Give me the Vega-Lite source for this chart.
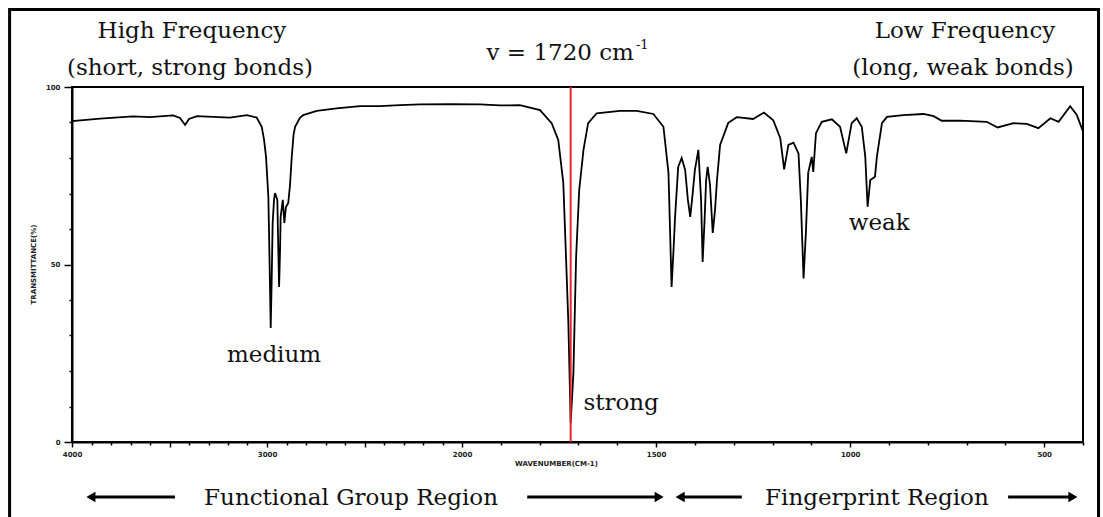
{
  "$schema": "https://vega.github.io/schema/vega-lite/v6.json",
  "width": 1011,
  "height": 355,
  "autosize": {"type": "none"},
  "padding": {"left": 72, "top": 87, "right": 20, "bottom": 75},
  "background": "white",
  "config": {
    "view": {"stroke": "black", "strokeWidth": 2},
    "axis": {"grid": false, "domainColor": "black", "domainWidth": 2, "tickColor": "black", "tickWidth": 1.5,
      "labelFont": "DejaVu Sans", "labelFontWeight": "bold", "labelFontSize": 7, "labelColor": "#222",
      "titleFont": "DejaVu Sans", "titleFontWeight": "bold", "titleFontSize": 7, "titleColor": "#222"}
  },
  "datasets": {
    "spectrum": [
      {"wn": 4000, "t": 90.4}, {"wn": 3856, "t": 91.1}, {"wn": 3687, "t": 91.7}, {"wn": 3600, "t": 91.5},
      {"wn": 3482, "t": 92.0}, {"wn": 3446, "t": 91.3}, {"wn": 3420, "t": 89.3}, {"wn": 3400, "t": 91.0},
      {"wn": 3359, "t": 91.8}, {"wn": 3277, "t": 91.6}, {"wn": 3190, "t": 91.4}, {"wn": 3103, "t": 92.1},
      {"wn": 3053, "t": 91.4}, {"wn": 3027, "t": 88.8}, {"wn": 3015, "t": 85.1}, {"wn": 3005, "t": 80.3},
      {"wn": 2993, "t": 69.0}, {"wn": 2987, "t": 51.3}, {"wn": 2981, "t": 32.1}, {"wn": 2976, "t": 45.6},
      {"wn": 2971, "t": 61.7}, {"wn": 2964, "t": 68.2}, {"wn": 2959, "t": 70.1}, {"wn": 2947, "t": 68.2},
      {"wn": 2942, "t": 54.1}, {"wn": 2938, "t": 43.7}, {"wn": 2933, "t": 54.1}, {"wn": 2930, "t": 63.4},
      {"wn": 2919, "t": 68.2}, {"wn": 2911, "t": 61.7}, {"wn": 2903, "t": 66.2}, {"wn": 2891, "t": 67.3},
      {"wn": 2882, "t": 72.4}, {"wn": 2873, "t": 80.3}, {"wn": 2864, "t": 86.5}, {"wn": 2856, "t": 88.8},
      {"wn": 2831, "t": 91.3}, {"wn": 2814, "t": 92.1}, {"wn": 2745, "t": 93.3}, {"wn": 2643, "t": 94.0},
      {"wn": 2523, "t": 94.6}, {"wn": 2421, "t": 94.6}, {"wn": 2318, "t": 94.9}, {"wn": 2215, "t": 95.1},
      {"wn": 2062, "t": 95.2}, {"wn": 1954, "t": 95.1}, {"wn": 1902, "t": 94.8}, {"wn": 1851, "t": 94.9},
      {"wn": 1799, "t": 93.5}, {"wn": 1769, "t": 89.8}, {"wn": 1752, "t": 85.1}, {"wn": 1739, "t": 73.0},
      {"wn": 1732, "t": 52.1}, {"wn": 1726, "t": 33.5}, {"wn": 1720, "t": 5.4}, {"wn": 1713, "t": 19.4},
      {"wn": 1706, "t": 52.1}, {"wn": 1698, "t": 71.0}, {"wn": 1687, "t": 82.3}, {"wn": 1675, "t": 89.8},
      {"wn": 1653, "t": 92.6}, {"wn": 1593, "t": 93.3}, {"wn": 1550, "t": 93.3}, {"wn": 1507, "t": 92.4},
      {"wn": 1481, "t": 88.8}, {"wn": 1468, "t": 75.8}, {"wn": 1464, "t": 59.7}, {"wn": 1460, "t": 43.7},
      {"wn": 1455, "t": 54.1}, {"wn": 1451, "t": 63.4}, {"wn": 1443, "t": 77.5}, {"wn": 1434, "t": 80.0},
      {"wn": 1425, "t": 76.6}, {"wn": 1418, "t": 68.2}, {"wn": 1412, "t": 63.4}, {"wn": 1406, "t": 69.6},
      {"wn": 1400, "t": 76.6}, {"wn": 1391, "t": 82.3}, {"wn": 1384, "t": 68.2}, {"wn": 1380, "t": 50.7},
      {"wn": 1375, "t": 62.5}, {"wn": 1371, "t": 73.8}, {"wn": 1367, "t": 77.5}, {"wn": 1361, "t": 72.4},
      {"wn": 1354, "t": 58.9}, {"wn": 1348, "t": 65.4}, {"wn": 1343, "t": 73.8}, {"wn": 1335, "t": 83.7},
      {"wn": 1314, "t": 89.9}, {"wn": 1292, "t": 91.5}, {"wn": 1250, "t": 91.0}, {"wn": 1222, "t": 92.8},
      {"wn": 1198, "t": 90.6}, {"wn": 1180, "t": 85.6}, {"wn": 1170, "t": 76.8}, {"wn": 1159, "t": 83.7},
      {"wn": 1146, "t": 84.3}, {"wn": 1133, "t": 81.3}, {"wn": 1127, "t": 68.2}, {"wn": 1120, "t": 46.1},
      {"wn": 1114, "t": 58.9}, {"wn": 1108, "t": 75.8}, {"wn": 1099, "t": 80.3}, {"wn": 1095, "t": 76.1},
      {"wn": 1088, "t": 87.0}, {"wn": 1073, "t": 90.2}, {"wn": 1047, "t": 90.9}, {"wn": 1026, "t": 88.8},
      {"wn": 1010, "t": 81.3}, {"wn": 996, "t": 89.8}, {"wn": 983, "t": 91.2}, {"wn": 970, "t": 88.8},
      {"wn": 961, "t": 80.4}, {"wn": 955, "t": 66.3}, {"wn": 948, "t": 73.8}, {"wn": 936, "t": 74.7},
      {"wn": 931, "t": 80.4}, {"wn": 918, "t": 89.8}, {"wn": 905, "t": 91.6}, {"wn": 863, "t": 92.1},
      {"wn": 811, "t": 92.4}, {"wn": 785, "t": 91.8}, {"wn": 764, "t": 90.5}, {"wn": 717, "t": 90.5},
      {"wn": 648, "t": 90.2}, {"wn": 620, "t": 88.6}, {"wn": 579, "t": 89.8}, {"wn": 545, "t": 89.6},
      {"wn": 515, "t": 88.4}, {"wn": 484, "t": 91.2}, {"wn": 463, "t": 90.2}, {"wn": 433, "t": 94.6},
      {"wn": 416, "t": 92.1}, {"wn": 400, "t": 87.5}
    ],
    "frame": [{"wn": 4320, "wn2": 360, "t": 121.8, "t2": -28}],
    "marker": [{"wn": 1720, "t": 0, "t2": 100}],
    "arrows": [
      {"wn": 3908, "wn2": 3472, "t": -15.5},
      {"wn": 1832, "wn2": 1500, "t": -15.5},
      {"wn": 1428, "wn2": 1279, "t": -15.5},
      {"wn": 593, "wn2": 433, "t": -15.5}
    ],
    "heads": [
      {"wn": 3903, "t": -15.5, "dir": "left"},
      {"wn": 1492, "t": -15.5, "dir": "right"},
      {"wn": 1438, "t": -15.5, "dir": "left"},
      {"wn": 426, "t": -15.5, "dir": "right"}
    ],
    "labels": [
      {"wn": 3385, "t": 113.8, "text": "High Frequency"},
      {"wn": 3395, "t": 103.4, "text": "(short, strong bonds)"},
      {"wn": 704, "t": 113.8, "text": "Low Frequency"},
      {"wn": 709, "t": 103.4, "text": "(long, weak bonds)"},
      {"wn": 2964, "t": 22.5, "text": "medium"},
      {"wn": 1590, "t": 9.0, "text": "strong"},
      {"wn": 925, "t": 59.7, "text": "weak"},
      {"wn": 2569, "t": -17.7, "text": "Functional Group Region"},
      {"wn": 931, "t": -17.7, "text": "Fingerprint Region"}
    ],
    "vlabel": [{"wn": 1557, "t": 107.6, "text": "v = 1720 cm"}],
    "sup": [{"wn": 1552, "t": 110.7, "text": "-1"}]
  },
  "encoding": {
    "x": {"field": "wn", "type": "quantitative",
      "scale": {"domain": [400, 2000, 4000], "range": [1011, 390, 0], "nice": false, "zero": false},
      "axis": {"values": [4000,3900,3800,3700,3600,3500,3400,3300,3200,3100,3000,2900,2800,2700,2600,2500,2400,2300,2200,2100,2000,1900,1800,1700,1600,1500,1400,1300,1200,1100,1000,900,800,700,600,500,400],
        "format": "d", "labelFlush": false, "labelOverlap": false,
        "labelExpr": "indexof([4000,3000,2000,1500,1000,500], datum.value) >= 0 ? datum.label : ''",
        "tickSize": {"condition": {"test": "datum.value % 500 === 0", "value": 5}, "value": 3},
        "labelPadding": 3,
        "title": "WAVENUMBER(CM-1)", "titleX": 484, "titleY": 21, "titleAlign": "center", "titleBaseline": "middle"}},
    "y": {"field": "t", "type": "quantitative",
      "scale": {"domain": [0, 100], "nice": false, "zero": false},
      "axis": {"values": [0,10,20,30,40,50,60,70,80,90,100],
        "labelExpr": "datum.value % 50 === 0 ? datum.label : ''",
        "tickSize": {"condition": {"test": "datum.value % 50 === 0", "value": 8}, "value": 3},
        "labelPadding": 4,
        "title": "TRANSMITTANCE(%)", "titleX": -39, "titleY": 177, "titleAngle": 270, "titleAlign": "center", "titleBaseline": "middle"}}
  },
  "layer": [
    {"data": {"name": "frame"}, "mark": {"type": "rect", "fill": "white", "fillOpacity": 0, "stroke": "black", "strokeWidth": 3, "clip": false},
      "encoding": {"x2": {"field": "wn2"}, "y2": {"field": "t2"}}},
    {"data": {"name": "spectrum"}, "mark": {"type": "line", "color": "black", "strokeWidth": 1.8, "interpolate": "linear"}},
    {"data": {"name": "marker"}, "mark": {"type": "rule", "color": "#e3262c", "strokeWidth": 2},
      "encoding": {"y2": {"field": "t2"}}},
    {"data": {"name": "arrows"}, "mark": {"type": "rule", "color": "black", "strokeWidth": 3, "clip": false},
      "encoding": {"x2": {"field": "wn2"}}},
    {"data": {"name": "heads"}, "mark": {"type": "point", "filled": true, "color": "black", "opacity": 1, "size": 110, "clip": false},
      "encoding": {"shape": {"field": "dir", "type": "nominal", "scale": {"domain": ["left", "right"], "range": ["triangle-left", "triangle-right"]}, "legend": null}}},
    {"data": {"name": "labels"}, "mark": {"type": "text", "font": "DejaVu Serif", "fontSize": 23, "color": "#111", "align": "center", "baseline": "alphabetic"},
      "encoding": {"text": {"field": "text"}}},
    {"data": {"name": "vlabel"}, "mark": {"type": "text", "font": "DejaVu Serif", "fontSize": 23, "color": "#111", "align": "right", "baseline": "alphabetic"},
      "encoding": {"text": {"field": "text"}}},
    {"data": {"name": "sup"}, "mark": {"type": "text", "font": "DejaVu Serif", "fontSize": 13, "color": "#111", "align": "left", "baseline": "alphabetic"},
      "encoding": {"text": {"field": "text"}}}
  ]
}
